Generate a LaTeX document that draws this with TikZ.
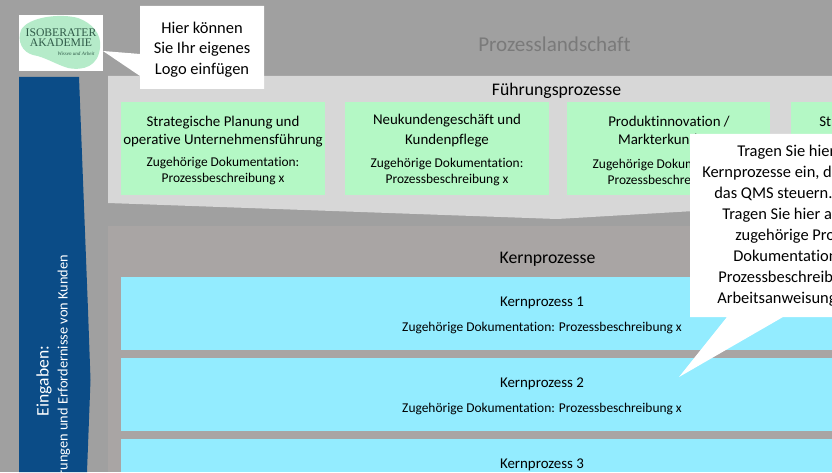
\documentclass[tikz,border=0pt]{standalone}
\usepackage{fontspec}
\setmainfont{Carlito}[Ligatures=NoCommon]
\newfontfamily\logofont{Liberation Serif}
\usepackage{xcolor}
\definecolor{bggrey}{HTML}{A0A0A0}
\definecolor{leadgrey}{HTML}{D7D7D7}
\definecolor{coregrey}{HTML}{A9A5A4}
\definecolor{inputblue}{HTML}{0B4C87}
\definecolor{leadgreen}{HTML}{B4F8C5}
\definecolor{coreblue}{HTML}{93ECFF}
\definecolor{logogreen}{HTML}{B5EBC9}
\definecolor{logotext}{HTML}{2F5A48}
\tikzset{
	boxtitle/.style={font=\fontsize{10.6}{12}\selectfont, text=black},
	boxdoc/.style={font=\fontsize{9.55}{11}\selectfont, text=black},
	paneltitle/.style={font=\fontsize{12.6}{14}\selectfont, text=black},
	hinttext/.style={font=\fontsize{11.7}{13}\selectfont, text=black},
	hintline/.style={hinttext, anchor=base west, inner sep=0pt},
	logotitle/.style={font=\logofont\fontsize{8.3}{9}\selectfont, text=logotext, inner sep=0pt},
}
\begin{document}
\begin{tikzpicture}[x=0.025cm, y=-0.025cm]
	\useasboundingbox (0,0) rectangle (832,472);
	\clip (0,0) rectangle (832,472);
	\fill[bggrey] (0,0) rectangle (832,472);
	
	\node[font=\fontsize{15}{17}\selectfont, text=black!52] (landscapetitle) at (554.5, 44) {Prozesslandschaft};
	
	% input arrow
	\fill[inputblue] (19,77) -- (79,77) -- (88,310) -- (90.5,380) -- (87,472) -- (19,472) -- cycle;
	\node[rotate=90, anchor=center, text=white, font=\fontsize{12.5}{14}\selectfont] (inputtitle) at (44, 381) {Eingaben:};
	\node[rotate=90, anchor=east, text=white, font=\fontsize{10.2}{12}\selectfont] (inputtext) at (64, 250) {Anforderungen und Erfordernisse von Kunden};
	
	% leading processes
	\fill[leadgrey] (108,76) -- (832,76) -- (832,203) -- (557,219) -- (108,203) -- cycle;
	\node[paneltitle] (leadtitle) at (556.5, 91) {Führungsprozesse};
	
	\fill[leadgreen] (121,102) rectangle (325,195);
	\node[boxtitle] (leadatext) at (223, 123) {Strategische Planung und};
	\node[boxtitle] (leadbtext) at (223, 141) {operative Unternehmensführung};
	\node[boxdoc] (leadcdoc) at (223, 163) {Zugehörige Dokumentation:};
	\node[boxdoc] (leadddoc) at (223, 179) {Prozessbeschreibung x};
	
	\fill[leadgreen] (345,102) rectangle (549,195);
	\node[boxtitle] (leadetext) at (447, 121) {Neukundengeschäft und};
	\node[boxtitle] (leadftext) at (447, 141) {Kundenpflege};
	\node[boxdoc] (leadgdoc) at (447, 164) {Zugehörige Dokumentation:};
	\node[boxdoc] (leadhdoc) at (447, 180) {Prozessbeschreibung x};
	
	\fill[leadgreen] (567,102) rectangle (770,195);
	\node[boxtitle] (leaditext) at (669, 122) {Produktinnovation /};
	\node[boxtitle] (leadjtext) at (669, 141) {Markterkundung};
	\node[boxdoc] (leadkdoc) at (669, 165) {Zugehörige Dokumentation:};
	\node[boxdoc] (leadldoc) at (669, 181) {Prozessbeschreibung x};
	
	\fill[leadgreen] (791,102) rectangle (832,195);
	\node[boxtitle, anchor=west, inner sep=0pt] (leadmtext) at (819, 122) {St};
	
	% core processes
	\fill[coregrey] (108,226) rectangle (832,472);
	\node[paneltitle] (coretitle) at (547.5, 259) {Kernprozesse};
	
	\fill[coreblue] (121,277) rectangle (832,350);
	\node[boxtitle] (coreatext) at (542, 303) {Kernprozess 1};
	\node[boxdoc] (coreadoc) at (542, 328) {Zugehörige Dokumentation: Prozessbeschreibung x};
	
	\fill[coreblue] (121,358) rectangle (832,431);
	\node[boxtitle] (corebtext) at (542, 384) {Kernprozess 2};
	\node[boxdoc] (corebdoc) at (542, 409) {Zugehörige Dokumentation: Prozessbeschreibung x};
	
	\fill[coreblue] (121,439) rectangle (832,472);
	\node[boxtitle] (corectext) at (542, 465) {Kernprozess 3};
	
	% logo
	\fill[white] (19,15) rectangle (103,71);
	\fill[logogreen] (21,30) .. controls (28,17) and (60,13) .. (78,18) .. controls (92,23) and (102,34) .. (100,48) .. controls (98,66) and (84,71) .. (68,68) .. controls (55,64) and (45,57) .. (33,55) .. controls (22,52) and (17,41) .. (21,30) -- cycle;
	\node[logotitle] (logoa) at (61, 33) {ISOBERATER};
	\node[logotitle] (logob) at (61, 43) {AKADEMIE};
	\node[logotitle, font=\logofont\itshape\fontsize{3.6}{4}\selectfont] (logoc) at (76, 54) {Wissen und Arbeit};
	
	% logo hint
	\fill[white] (140,6) -- (264,6) -- (264,89) -- (140,89) -- (140,76) -- (103,51) -- (140,54) -- cycle;
	\node[hinttext] (logohinta) at (202, 28) {Hier können};
	\node[hinttext] (logohintb) at (202, 49) {Sie Ihr eigenes};
	\node[hinttext] (logohintc) at (202, 70) {Logo einfügen};
	
	% core process hint
	\fill[white] (690,134) -- (832,134) -- (832,317) -- (783,317) -- (679,377) -- (727,317) -- (690,317) -- cycle;
	\node[hintline] (corehinta) at (737, 156) {Tragen Sie hier};
	\node[hintline] (corehintb) at (702, 177) {Kernprozesse ein, d};
	\node[hintline] (corehintc) at (714, 198) {das QMS steuern.};
	\node[hintline] (corehintd) at (722, 219) {Tragen Sie hier a};
	\node[hintline] (corehinte) at (735, 240) {zugehörige Pro};
	\node[hintline] (corehintf) at (733, 261) {Dokumentation};
	\node[hintline] (corehintg) at (718, 282) {Prozessbeschreib};
	\node[hintline] (corehinth) at (717, 303) {Arbeitsanweisung};
\end{tikzpicture}
\end{document}
